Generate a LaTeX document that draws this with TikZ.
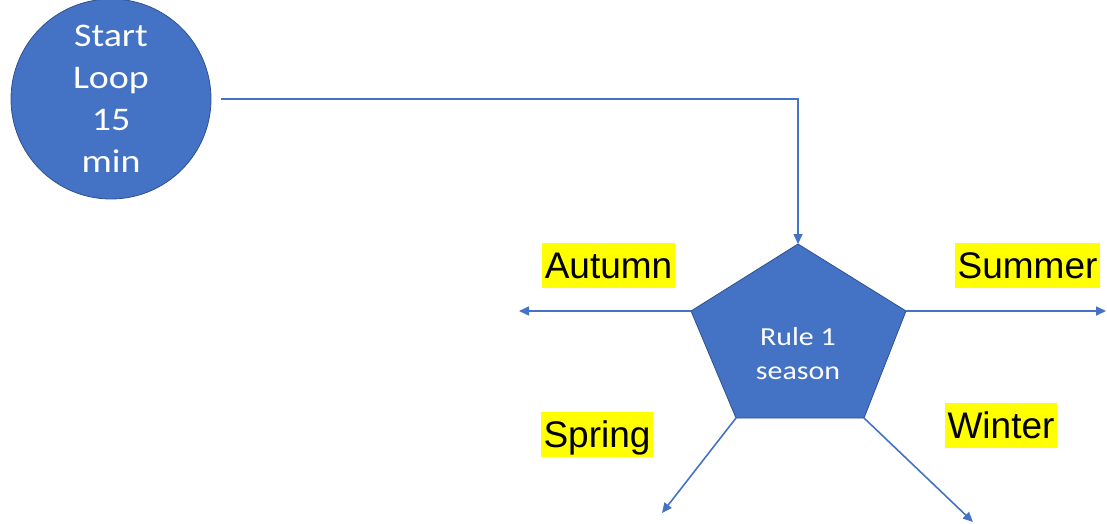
\documentclass[tikz,border=0pt]{standalone}
\usepackage{fontspec}
\setmainfont{Liberation Sans}
\newfontfamily\calfont[FakeStretch=1.15]{Carlito}
\usetikzlibrary{arrows.meta}
\definecolor{officeblue}{HTML}{4472C4}
\definecolor{edgeblue}{HTML}{2F528F}
\definecolor{hilite}{HTML}{FFFF00}

\begin{document}
\begin{tikzpicture}[x=1pt,y=-1pt,
  conn/.style={draw=officeblue, line width=1.6pt, -{Triangle[length=10pt,width=9pt]}},
  shapefill/.style={fill=officeblue, draw=edgeblue, line width=0.8pt},
  seasonlabel/.style={fill=hilite, text=black, font=\fontsize{37}{42}\selectfont,
    inner xsep=3pt, inner ysep=0pt, text height=26.5pt, text depth=0pt,
    minimum height=45pt},
  whitetext/.style={text=white, align=center}
]
\useasboundingbox (0,0) rectangle (1107,524);

% start node
\node[circle, shapefill, minimum size=200pt, inner sep=0pt, whitetext,
      font=\calfont\fontsize{33}{42}\selectfont] (start) at (111,99)
  {Start\\Loop\\15\\min};

% pentagon corners
\coordinate (ptop) at (798,244);
\coordinate (pleft) at (691,311);
\coordinate (pright) at (906,311);
\coordinate (pbl) at (736,418);
\coordinate (pbr) at (864,418);
\path[shapefill] (ptop) -- (pright) -- (pbr) -- (pbl) -- (pleft) -- cycle;
\node[whitetext, font=\calfont\fontsize{26}{34}\selectfont] (rule) at (798,354)
  {Rule 1\\season};

% loop connector
\coordinate (startout) at (221,99);
\draw[conn] (startout) -| (ptop);

% season arrows
\coordinate (autumnend) at (519,311);
\coordinate (summerend) at (1106,311);
\coordinate (springend) at (662,513);
\coordinate (winterend) at (973,522);
\draw[conn] (pleft) -- (autumnend);
\draw[conn] (pright) -- (summerend);
\draw[conn] (pbl) -- (springend);
\draw[conn] (pbr) -- (winterend);

% season labels
\node[seasonlabel] (autumn) at (608.5,265.5) {Autumn};
\node[seasonlabel] (summer) at (1027.5,265.5) {Summer};
\node[seasonlabel] (spring) at (597,434.5) {Spring};
\node[seasonlabel] (winter) at (1001,425) {Winter};
\end{tikzpicture}
\end{document}
